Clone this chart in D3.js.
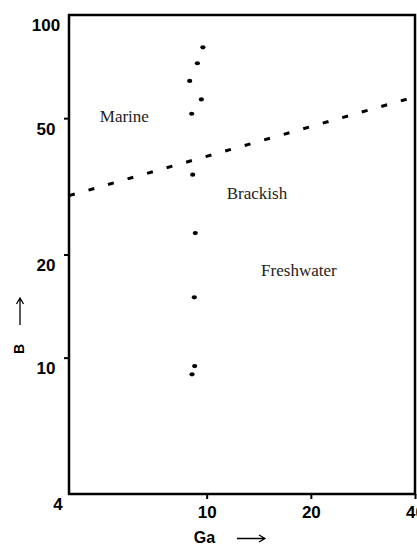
<!DOCTYPE html>
<html>
<head>
<meta charset="utf-8">
<script src="https://cdn.jsdelivr.net/npm/d3@7"></script>
<style>
  html, body { margin: 0; padding: 0; background: #fff; }
  svg { display: block; }
</style>
</head>
<body>
<div id="chart"></div>
<script>
const width = 417, height = 545;
const margin = { top: 15, right: 2, bottom: 51, left: 69 };

// sample points (Ga, B)
const gaValues = [9.75, 9.40, 8.93, 9.65, 9.05, 9.11, 9.27, 9.21, 9.23, 9.07];
const bValues = [80.5, 72.3, 64.2, 56.7, 51.5, 34.2, 23.1, 15.0, 9.45, 8.94];

// dashed boundary line, Ga -> B at its two ends
const boundaryGa = [4, 40];
const boundaryB = [29.7, 57.7];

// field labels with their anchor in data space
const regionNames = ["Marine", "Brackish", "Freshwater"];
const regionGa = [5.78, 13.97, 18.47];
const regionB = [50.7, 30.2, 17.9];

const xTicks = [10, 20, 40];
const yTicks = [4, 10, 20, 50, 100];

const svg = d3.select("#chart").append("svg")
    .attr("width", width)
    .attr("height", height)
    .attr("viewBox", [0, 0, width, height]);

const xScale = d3.scaleLog()
    .domain([4, 40])
    .range([margin.left, width - margin.right]);

const yScale = d3.scaleLog()
    .domain([4, 100])
    .range([height - margin.bottom, margin.top]);

const axisFont = "'Liberation Sans', Arial, sans-serif";
const serifFont = "'Liberation Serif', 'Times New Roman', serif";

// y axis
const yAxis = svg.append("g")
    .attr("transform", `translate(${margin.left},0)`)
    .call(d3.axisLeft(yScale).tickValues(yTicks).tickSize(5).tickFormat(d3.format("d")));
yAxis.select(".domain").remove();
yAxis.selectAll(".tick line")
    .attr("stroke", "#000")
    .attr("stroke-width", 2)
    .attr("opacity", d => (d === 4 || d === 100) ? 0 : 1);
yAxis.selectAll(".tick text")
    .attr("font-family", axisFont)
    .attr("font-weight", "bold")
    .attr("font-size", 17)
    .attr("fill", "#000")
    .attr("text-anchor", "middle")
    .attr("x", d => d === 4 ? -11 : -23)
    .attr("dy", "0.35em")
    .attr("y", 10);

// x axis
const xAxis = svg.append("g")
    .attr("transform", `translate(0,${height - margin.bottom})`)
    .call(d3.axisBottom(xScale).tickValues(xTicks).tickSize(5).tickFormat(d3.format("d")));
xAxis.select(".domain").remove();
xAxis.selectAll(".tick line")
    .attr("stroke", "#000")
    .attr("stroke-width", 2);
xAxis.selectAll(".tick text")
    .attr("font-family", axisFont)
    .attr("font-weight", "bold")
    .attr("font-size", 17)
    .attr("fill", "#000")
    .attr("y", 18)
    .attr("dy", "0.35em");

// frame
svg.append("rect")
    .attr("x", margin.left)
    .attr("y", margin.top)
    .attr("width", width - margin.right - margin.left)
    .attr("height", height - margin.bottom - margin.top)
    .attr("fill", "none")
    .attr("stroke", "#000")
    .attr("stroke-width", 2.5);

// dashed boundary
const lineGen = d3.line()
    .x(d => xScale(d[0]))
    .y(d => yScale(d[1]));
svg.append("path")
    .datum(d3.zip(boundaryGa, boundaryB))
    .attr("d", lineGen)
    .attr("fill", "none")
    .attr("stroke", "#000")
    .attr("stroke-width", 3)
    .attr("stroke-dasharray", "6,14.3");

// points
svg.selectAll(".pt")
    .data(d3.zip(gaValues, bValues))
    .join("ellipse")
        .attr("class", "pt")
        .attr("cx", d => xScale(d[0]))
        .attr("cy", d => yScale(d[1]))
        .attr("rx", 2.6)
        .attr("ry", 2.1)
        .attr("fill", "#000");

// region labels
svg.selectAll(".region")
    .data(d3.zip(regionNames, regionGa, regionB))
    .join("text")
        .attr("class", "region")
        .attr("x", d => xScale(d[1]))
        .attr("y", d => yScale(d[2]))
        .attr("dy", "0.32em")
        .attr("text-anchor", "middle")
        .attr("font-family", serifFont)
        .attr("font-size", 17)
        .attr("fill", "#222")
        .text(d => d[0]);

// axis titles
svg.append("text")
    .attr("x", 204.5)
    .attr("y", 537)
    .attr("dy", "0.35em")
    .attr("text-anchor", "middle")
    .attr("font-family", axisFont)
    .attr("font-weight", "bold")
    .attr("font-size", 16)
    .text("Ga");

svg.append("text")
    .attr("transform", "translate(19,349) rotate(-90)")
    .attr("dy", "0.35em")
    .attr("text-anchor", "middle")
    .attr("font-family", axisFont)
    .attr("font-weight", "bold")
    .attr("font-size", 14)
    .text("B");

// arrows next to the titles
svg.append("path")
    .attr("d", "M237,538.5 H265 M259,535 L265,538.5 L259,542")
    .attr("fill", "none")
    .attr("stroke", "#000")
    .attr("stroke-width", 1.3);
svg.append("path")
    .attr("d", "M20,325 V298 M16.5,304 L20,298 L23.5,304")
    .attr("fill", "none")
    .attr("stroke", "#000")
    .attr("stroke-width", 1.3);
</script>
</body>
</html>
